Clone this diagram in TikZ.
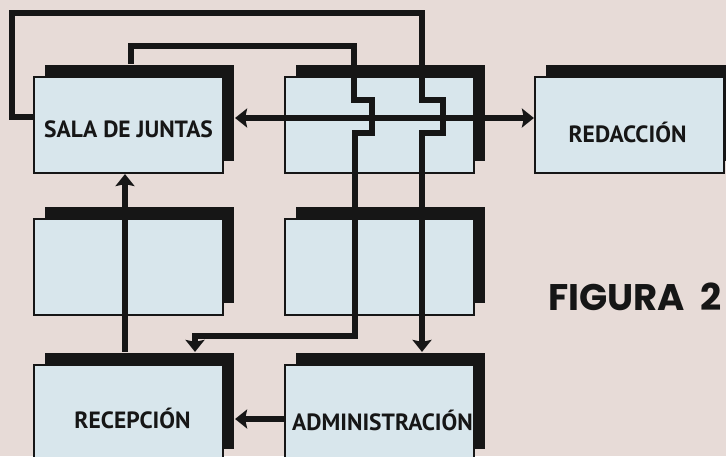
\documentclass[tikz,border=0pt]{standalone}
\usepackage{fontspec}
\setmainfont{PT Sans}
\newfontfamily\figfont{Poppins}
\usetikzlibrary{arrows.meta, positioning, calc, shadows}
\definecolor{paperpink}{RGB}{231,219,215}
\definecolor{boxblue}{RGB}{216,230,236}
\definecolor{inkblack}{RGB}{22,22,22}

\begin{document}
\begin{tikzpicture}[x=1pt, y=-1pt,
    box/.style={draw=inkblack, line width=2.2pt, fill=boxblue, minimum width=189pt,
                minimum height=96pt, inner sep=0pt,
                general shadow={fill=inkblack, shadow xshift=11pt, shadow yshift=12pt}},
    lbl/.style={font=\fontsize{23.5}{23.5}\selectfont\bfseries, text=inkblack,
                anchor=base, inner sep=0pt},
    figlbl/.style={font=\figfont\fontsize{37}{37}\selectfont\bfseries, text=inkblack,
                anchor=base, inner sep=0pt},
    conn/.style={draw=inkblack, line width=6pt},
    arrowend/.style={-{Stealth[width=19pt, length=12pt, inset=2pt]}},
    arrowboth/.style={{Stealth[width=19pt, length=12pt, inset=2pt]}-{Stealth[width=19pt, length=12pt, inset=2pt]}}
  ]
    \useasboundingbox (0,0) rectangle (726,456);
    \clip (0,0) rectangle (726,456);
    \fill[paperpink] (0,0) rectangle (726,456);

    %% Boxes
    \node[box] (sala) at (128.5,125) {};
    \node[box] (centro) at (379.5,125) {};
    \node[box] (redac) at (629.5,125) {};
    \node[box] (izq) at (128.5,267) {};
    \node[box] (der) at (379.5,267) {};
    \node[box] (recep) at (128.5,413) {};
    \node[box] (admin) at (379.5,413) {};

    %% Labels
    \node[lbl] (sala-t) at ([yshift=-12pt]sala.center) {SALA DE JUNTAS};
    \node[lbl] (redac-t) at ([xshift=-2pt,yshift=-17pt]redac.center) {REDACCIÓN};
    \node[lbl] (recep-t) at ([xshift=4pt,yshift=-15pt]recep.center) {RECEPCIÓN};
    \node[lbl] (admin-t) at ([xshift=3pt,yshift=-17pt]admin.center) {ADMINISTRACIÓN};
    \node[figlbl] (figura) at (635,310) {FIGURA\ \ 2};

    %% Connectors
    \draw[conn, arrowend] ([yshift=8pt]sala.west) -| (12,13) -| (422,100) -| (443,133)
      -| ([xshift=42.5pt,yshift=12pt]admin.north);
    \draw[conn, arrowend] ([xshift=2pt,yshift=12pt]sala.north) |- (354,46) |- (372,100)
      |- (355,133) |- (195,336) -- ([xshift=66.5pt,yshift=12pt]recep.north);
    \draw[conn, arrowboth] ([xshift=11pt,yshift=7pt]sala.east) -- ([yshift=7pt]redac.west);
    \draw[conn, arrowend] ([xshift=-3.5pt,yshift=12pt]recep.north) -- ([xshift=-3.5pt]sala.south);
    \draw[conn, arrowend] ([yshift=-6pt]admin.west) -- ([xshift=11pt,yshift=-6pt]recep.east);
  \end{tikzpicture}
\end{document}
